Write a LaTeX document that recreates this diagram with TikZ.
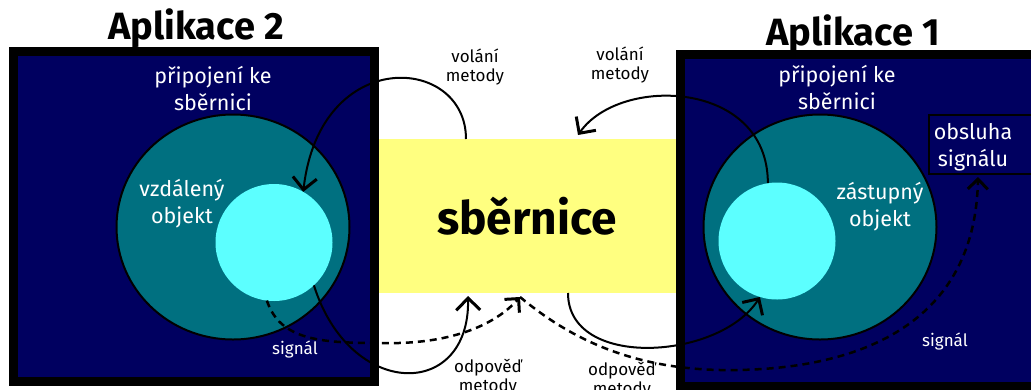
\documentclass[tikz,border=0pt]{standalone}
\usepackage{fontspec}
\setmainfont{Fira Sans}
\usetikzlibrary{arrows.meta,calc,shapes.geometric}
\definecolor{navyc}{HTML}{000060}
\definecolor{tealc}{HTML}{007080}
\definecolor{cyanc}{HTML}{5CFFFF}
\definecolor{busc}{HTML}{FFFF80}
\begin{document}
\begin{tikzpicture}[x=1pt,y=-1pt,
  appbox/.style={draw=black,line width=9pt,fill=navyc},
  conncircle/.style={ellipse,draw=black,line width=2pt,fill=tealc,inner sep=0pt,outer sep=0pt,minimum width=233pt,minimum height=225pt},
  objcircle/.style={circle,fill=cyanc,inner sep=0pt,outer sep=0pt,minimum size=117pt},
  busnode/.style={rectangle,fill=busc,inner sep=0pt,outer sep=0pt,minimum width=298pt,minimum height=154pt,font=\fontsize{46}{50}\selectfont\bfseries},
  titlelab/.style={inner sep=0pt,font=\fontsize{38}{44}\selectfont\bfseries,anchor=base},
  whitelab/.style={inner sep=0pt,align=center,text=white,font=\fontsize{21.5}{27}\selectfont},
  smallwhite/.style={inner sep=0pt,text=white,font=\fontsize{17}{20}\selectfont,anchor=base},
  blacklab/.style={inner sep=0pt,align=center,text=black,font=\fontsize{17}{19}\selectfont},
  handlerbox/.style={draw=black,line width=2pt},
  conn/.style={draw=black,line width=2pt,-{Straight Barb[length=12pt,width=24pt,line width=3pt]}},
  sigline/.style={draw=black,line width=2.5pt,dash pattern=on 7pt off 5pt,-{Straight Barb[length=10pt,width=20pt,line width=3pt]}}
]
\useasboundingbox (0,0) rectangle (1031,389);
\clip (0,0) rectangle (1031,389);
\fill[white] (0,0) rectangle (1031,389);

% bus
\node[busnode] (bus) at (527,216) {sběrnice};

% application boxes
\draw[appbox] (13,51) rectangle (374,381);
\draw[appbox] (680,54) rectangle (1045,386);

% titles
\node[titlelab] (t2) at (196,39) {Aplikace 2};
\node[titlelab] (t1) at (853,45) {Aplikace 1};

% connection circles and objects
\node[conncircle] (conn2) at (233,227) {};
\node[objcircle] (obj2) at (274,242.5) {};
\node[conncircle] (conn1) at (820,227) {};
\node[objcircle] (obj1) at (777,241) {};

% handler box
\draw[handlerbox] (929,115) rectangle (1060,174);

% white labels
\node[whitelab] (lc2) at (213,89) {připojení ke\\sběrnici};
\node[whitelab] (lc1) at (837,88) {připojení ke\\sběrnici};
\node[whitelab] (remote) at (182,204) {vzdálený\\objekt};
\node[whitelab] (proxy) at (880,207) {zástupný\\objekt};
\node[whitelab] (handler) at (973,147) {obsluha\\signálu};
\node[smallwhite] (sig2) at (295,354) {signál};
\node[smallwhite] (sig1) at (945,346) {signál};

% black labels
\node[blacklab] (call2) at (475,67) {volání\\metody};
\node[blacklab] (call1) at (620,65) {volání\\metody};
\node[blacklab] (resp2) at (488,377) {odpověď\\metody};
\node[blacklab] (resp1) at (622,380) {odpověď\\metody};

% endpoints
\coordinate (vl) at ($(bus.north west)+(88,0)$);
\coordinate (vrtip) at ($(bus.north west)+(200,-4)$);
\coordinate (oltip) at ($(bus.south west)+(90,3)$);
\coordinate (orst) at ($(bus.south west)+(190,0)$);
\coordinate (sig) at ($(bus.south west)+(142,4)$);
\coordinate (hs) at (978,177);

% method call / response arrows
\draw[conn] (vl) .. controls (466,55) and (320,45) .. (obj2.60);
\draw[conn] (obj1.99) .. controls (768,80) and (620,75) .. (vrtip);
\draw[conn] (obj2.-47) .. controls (350,400) and (470,400) .. (oltip);
\draw[conn] (orst) .. controls (568,370) and (720,360) .. (obj1.-107);

% signal
\draw[sigline] (obj2.-97) .. controls (280,340) and (320,343) .. (380,343) .. controls (450,345) and (495,325) .. (sig);
\draw[sigline] (sig) .. controls (560,330) and (620,368) .. (720,370) .. controls (850,372) and (975,330) .. (hs);
\end{tikzpicture}
\end{document}
